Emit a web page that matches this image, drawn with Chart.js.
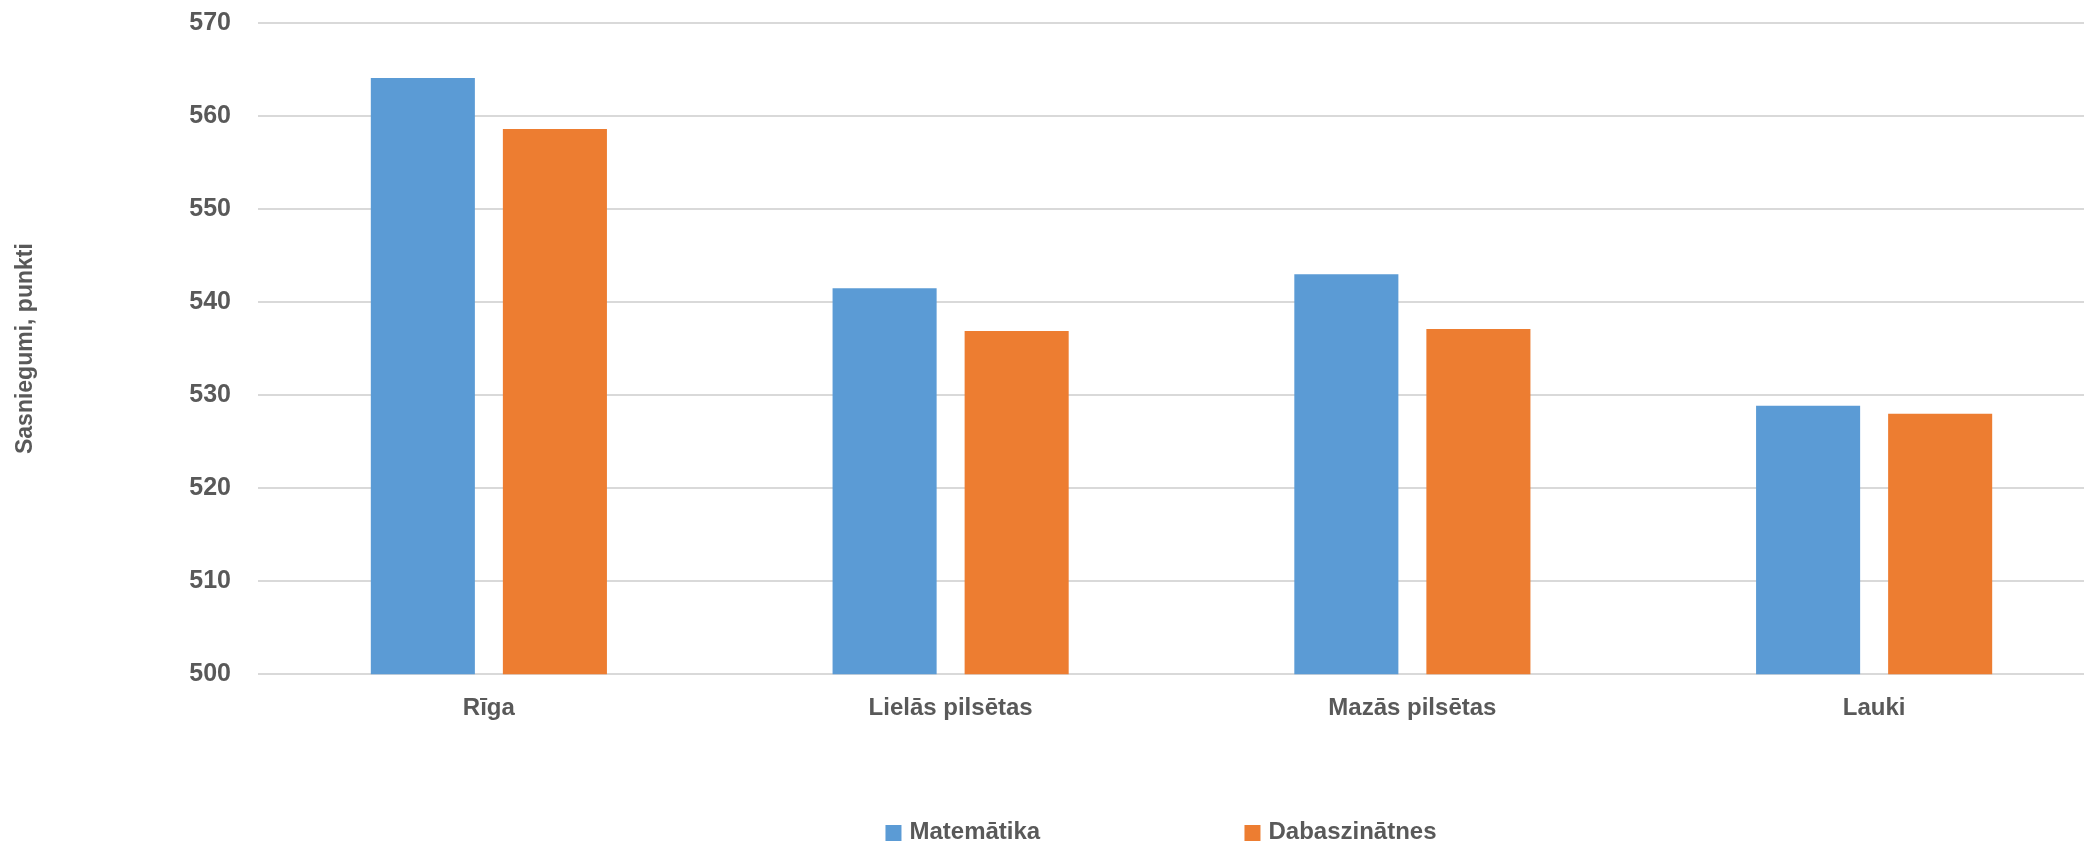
<!DOCTYPE html>
<html>
<head>
<meta charset="utf-8">
<script src="https://cdn.jsdelivr.net/npm/chart.js@4/dist/chart.umd.min.js"></script>
<style>
  html, body { margin: 0; padding: 0; background: #ffffff; overflow: hidden; }
  canvas { display: block; }
</style>
</head>
<body>
<canvas id="c" width="2105" height="845"></canvas>
<script>
const categories = ['Rīga', 'Lielās pilsētas', 'Mazās pilsētas', 'Lauki'];
const matematika = [564.1, 541.5, 543.0, 528.85];
const dabaszinatnes = [558.6, 536.9, 537.1, 528.0];
const seriesNames = ['Matemātika', 'Dabaszinātnes'];
const yTicks = [500, 510, 520, 530, 540, 550, 560, 570];
const yTitle = 'Sasniegumi, punkti';

const FONT = '"Liberation Sans", Arial, sans-serif';
const TXT = '#595959';
const VISIBLE_WIDTH = 2084;

const customLegend = {
  id: 'customLegend',
  afterDraw(chart) {
    const ctx = chart.ctx;
    const items = chart.data.datasets.map(d => ({ label: d.label, color: d.backgroundColor }));
    ctx.save();
    ctx.font = 'bold 24px ' + FONT;
    ctx.textBaseline = 'middle';
    ctx.textAlign = 'left';
    const box = 16, gap = 8, spacing = 359;
    const lastW = box + gap + ctx.measureText(items[items.length - 1].label).width;
    const total = spacing * (items.length - 1) + lastW;
    const center = (chart.chartArea.left + VISIBLE_WIDTH) / 2 - 10;
    let x = center - total / 2;
    const y = 832;
    items.forEach(it => {
      ctx.fillStyle = it.color;
      ctx.fillRect(x, y - box / 2 + 1, box, box);
      ctx.fillStyle = TXT;
      ctx.fillText(it.label, x + box + gap, y);
      x += spacing;
    });
    ctx.restore();
  }
};

new Chart(document.getElementById('c'), {
  type: 'bar',
  data: {
    labels: categories,
    datasets: [
      { label: seriesNames[0], data: matematika, backgroundColor: '#5B9BD5', borderWidth: 0 },
      { label: seriesNames[1], data: dabaszinatnes, backgroundColor: '#ED7D31', borderWidth: 0 }
    ]
  },
  options: {
    responsive: false,
    devicePixelRatio: 1,
    animation: false,
    layout: { padding: { top: 23, right: 0, bottom: 102, left: 0 } },
    datasets: { bar: { categoryPercentage: 0.572, barPercentage: 0.788 } },
    plugins: {
      legend: { display: false },
      tooltip: { enabled: false }
    },
    scales: {
      x: {
        grid: { display: false, drawTicks: false },
        border: { display: false },
        ticks: { color: TXT, font: { family: FONT, size: 24, weight: 'bold' }, padding: 20, maxRotation: 0 }
      },
      y: {
        min: 500,
        max: 570,
        afterBuildTicks: s => { s.ticks = yTicks.map(v => ({ value: v })); },
        afterFit: s => { s.width = 258; s.paddingTop = 0; s.paddingBottom = 0; },
        grid: { color: '#d9d9d9', lineWidth: 2, drawTicks: false },
        border: { display: false },
        ticks: { color: TXT, font: { family: FONT, size: 25, weight: 'bold' }, padding: 27 },
        title: {
          display: true,
          text: yTitle,
          color: TXT,
          font: { family: FONT, size: 23, weight: 'bold' },
          padding: { top: 12, bottom: 10 }
        }
      }
    }
  },
  plugins: [customLegend]
});
</script>
</body>
</html>
